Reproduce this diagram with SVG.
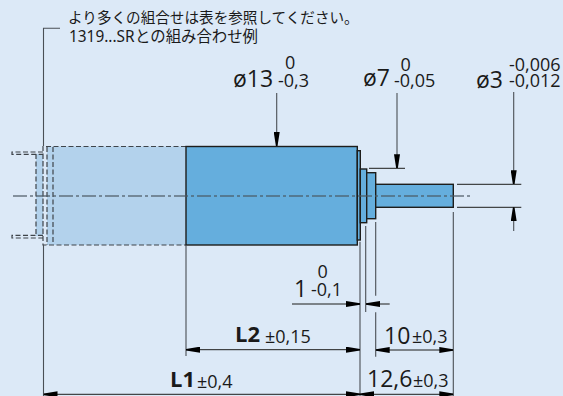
<svg xmlns="http://www.w3.org/2000/svg" width="563" height="396" viewBox="0 0 563 396">
<style>
text{font-family:"Open Sans","Noto Sans","Noto Sans CJK JP",sans-serif;fill:#1a1a1a}
.jp{font-family:"Noto Sans","Noto Sans CJK JP",sans-serif;font-size:14.600px}
.lg{font-size:23px}.b{font-size:22px;font-weight:700}.t{font-size:18px}
.ln{stroke:#1d1d1b;stroke-width:1;fill:none}
.ext{stroke:#4a4f55;stroke-width:1.1;fill:none}
.s{stroke:#1d1d1b;stroke-width:1.4;fill:#65aedd}
.d{stroke:#3e444a;stroke-width:1.2;stroke-dasharray:5 2.5;fill:none}
.cl{stroke:#4a5660;stroke-opacity:.8;stroke-width:1.3;stroke-dasharray:14 3 3 3;fill:none}
</style>
<defs>
<marker id="a" markerUnits="userSpaceOnUse" markerWidth="14" markerHeight="6" refX="14" refY="3" orient="auto-start-reverse"><path d="M0 0L14 2.200V3.800L0 6Z" fill="#000"/></marker>
</defs>
<rect width="563" height="396" fill="#dce9f7"/>
<g id="motor-ghost">
<rect x="36" y="154" width="7" height="82" fill="#b3d2ec"/>
<rect x="47" y="146.500" width="139" height="98.500" fill="#b3d2ec"/>
<path class="d" d="M186 146.500H43V245H186M47 147V245M53 147V245M36 154V236M43 154V236M43 152H12V154.300H43M43 235.300H12V238H43"/>
</g>
<g id="motor">
<rect class="s" x="186" y="146.500" width="171.300" height="98.500"/>
<rect class="s" x="357.300" y="150.700" width="3" height="89.300"/>
<rect class="s" x="360.300" y="169" width="6.400" height="53.700"/>
<rect class="s" x="366.700" y="172.700" width="9" height="46"/>
<rect class="s" x="375.700" y="184.300" width="77.600" height="23"/>
</g>
<g id="connectors">
<path class="cl" d="M13 196H470"/>
<path class="ext" d="M60 28.300H43.500V146M43.500 245V396M186 245V356M360 241.700V396M365.700 226V312M375.700 222V295.700M375.700 312.300V356.700M453.300 212V396"/>
<path class="ln" d="M369 168.300H405M457 184.300H521.300M457 207.300H521.300"/>
<path class="ext" d="M276.700 93V146" marker-end="url(#a)"/>
<path class="ext" d="M397 93V168.300" marker-end="url(#a)"/>
<path class="ext" d="M513.700 92V184.300" marker-end="url(#a)"/>
<path class="ext" d="M513.700 231V207.300" marker-end="url(#a)"/>
<path class="ln" d="M292 304H360" marker-end="url(#a)"/>
<path class="ln" d="M389.700 304H366" marker-end="url(#a)"/>
<path class="ln" d="M186 349.700H360" marker-start="url(#a)" marker-end="url(#a)"/>
<path class="ln" d="M375.700 350H453.300" marker-start="url(#a)" marker-end="url(#a)"/>
<path class="ln" d="M43.500 394.300H360" marker-start="url(#a)" marker-end="url(#a)"/>
<path class="ln" d="M360 394.300H453.300" marker-start="url(#a)" marker-end="url(#a)"/>
</g>
<g id="labels">
<text class="jp" x="68" y="22.500">より多くの組合せは表を参照してください。</text>
<text class="jp" x="69" y="42" font-size="15.400" style="font-size:15.400px">1319...SR<tspan x="135">との組み合わせ例</tspan></text>
<text class="lg" x="233" y="87">ø13</text><text class="t" x="285" y="69">0</text><text class="t" x="278" y="87">-0,3</text>
<text class="lg" x="363" y="86">ø7</text><text class="t" x="400.500" y="70.700">0</text><text class="t" x="394" y="86.700">-0,05</text>
<text class="lg" x="476" y="88">ø3</text><text class="t" x="509" y="70.700">-0,006</text><text class="t" x="509" y="86.700">-0,012</text>
<text class="lg" x="294" y="296.700">1</text><text class="t" x="317.500" y="277.700">0</text><text class="t" x="311" y="296">-0,1</text>
<text class="b" x="235" y="341.700">L2</text><text class="t" x="265" y="342.700">±0,15</text>
<text class="b" x="170" y="387">L1</text><text class="t" x="197" y="388">±0,4</text>
<text class="lg" x="384" y="344">10</text><text class="t" x="412" y="343">±0,3</text>
<text class="lg" x="367" y="386.700">12,6</text><text class="t" x="413" y="387">±0,3</text>
</g>
</svg>
